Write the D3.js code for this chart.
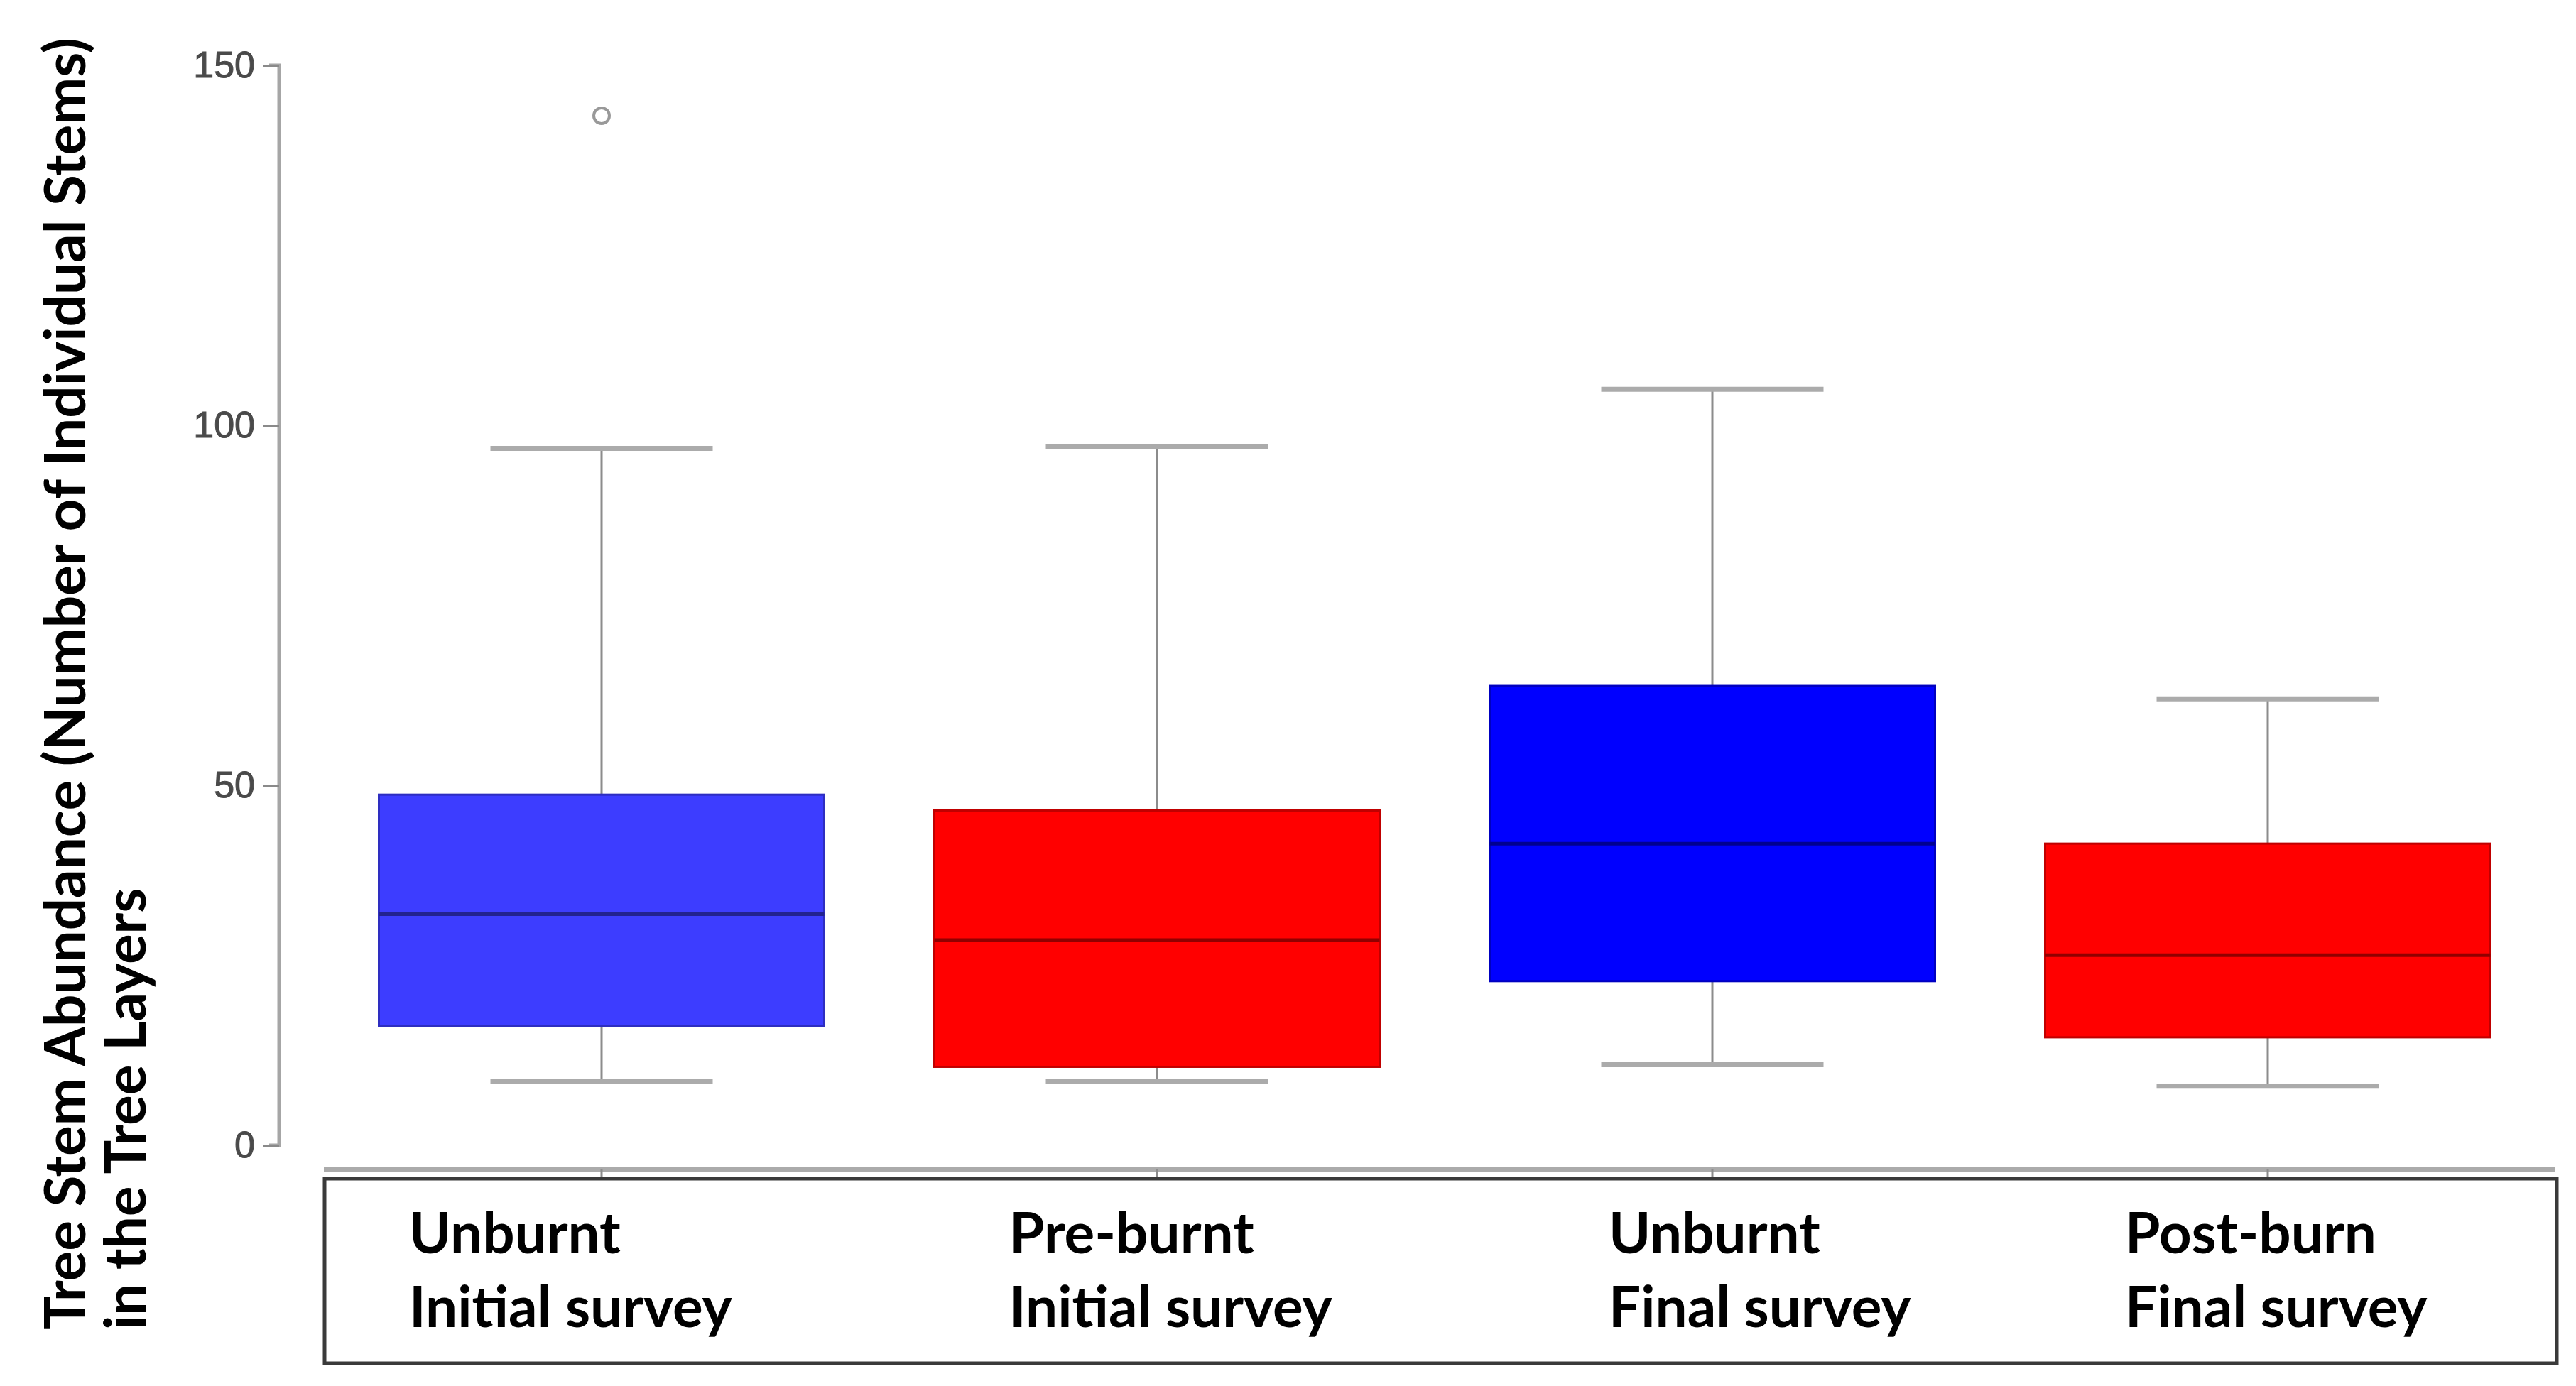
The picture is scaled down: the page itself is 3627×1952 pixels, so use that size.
<!DOCTYPE html>
<html><head><meta charset="utf-8">
<script src="https://cdn.jsdelivr.net/npm/d3@7"></script>
<style>html,body{margin:0;padding:0;background:#fff;}</style>
</head><body>
<svg id="chart" width="3627" height="1952"></svg>
<script>
// ---- data ----
const categories = ["Unburnt|Initial survey", "Pre-burnt|Initial survey", "Unburnt|Final survey", "Post-burn|Final survey"];
const whiskerLow  = [8.9, 8.9, 11.2, 8.2];
const q1          = [16.6, 10.9, 22.8, 15.0];
const medians     = [32.1, 28.5, 41.9, 26.4];
const q3          = [48.7, 46.5, 63.8, 41.9];
const whiskerHigh = [96.8, 97.0, 105.0, 62.0];
const outliers    = [[143], [], [], []];
const boxColors   = ["#3d3dff", "#ff0000", "#0000ff", "#ff0000"];
const yTicks      = [0, 50, 100, 150];
const yTitle      = ["Tree Stem Abundance (Number of Individual Stems)", "in the Tree Layers"];

// ---- layout ----
const svg = d3.select("#chart");
const x = d3.scalePoint().domain(categories).range([456, 3584]).padding(0.5);
const y = d3.scaleLinear().domain([0, 150]).range([1613, 92]);
const boxW = 627, capW = 313;
const data = categories.map((c, i) => ({c, i, lo: whiskerLow[i], q1: q1[i], med: medians[i], q3: q3[i], hi: whiskerHigh[i], out: outliers[i], col: boxColors[i]}));

// y axis (R style)
const axisX = 393;
const yAxis = d3.axisLeft(y).tickValues(yTicks).tickSize(22).tickPadding(12).tickFormat(d3.format("d"));
const gy = svg.append("g").attr("transform", `translate(${axisX},0)`).call(yAxis);
gy.select(".domain").attr("d", `M-14,${y(150)}H0V${y(0)}H-14`).attr("stroke", "#a6a6a6").attr("stroke-width", 5).attr("fill", "none");
gy.selectAll(".tick line").attr("stroke", "#8a8a8a").attr("stroke-width", 3);
gy.selectAll(".tick text").attr("font-family", "'Liberation Sans', Arial, sans-serif").attr("font-size", 52).attr("fill", "#4a4a4a").attr("stroke", "#4a4a4a").attr("stroke-width", 1);

// boxes
const g = svg.append("g");
data.forEach(d => {
  const cx = x(d.c);
  const dark = d3.color(d.col).darker(1.6);
  g.append("line").attr("x1", cx).attr("x2", cx).attr("y1", y(d.hi)).attr("y2", y(d.q3)).attr("stroke", "#8c8c8c").attr("stroke-width", 3);
  g.append("line").attr("x1", cx).attr("x2", cx).attr("y1", y(d.q1)).attr("y2", y(d.lo)).attr("stroke", "#8c8c8c").attr("stroke-width", 3);
  [d.hi, d.lo].forEach(v => g.append("line").attr("x1", cx - capW/2).attr("x2", cx + capW/2).attr("y1", y(v)).attr("y2", y(v)).attr("stroke", "#ababab").attr("stroke-width", 7));
  g.append("rect").attr("x", cx - boxW/2).attr("y", y(d.q3)).attr("width", boxW).attr("height", y(d.q1) - y(d.q3))
    .attr("fill", d.col).attr("stroke", d3.color(d.col).darker(0.8)).attr("stroke-width", 3);
  g.append("line").attr("x1", cx - boxW/2).attr("x2", cx + boxW/2).attr("y1", y(d.med)).attr("y2", y(d.med)).attr("stroke", dark).attr("stroke-width", 5);
  d.out.forEach(v => g.append("circle").attr("cx", cx).attr("cy", y(v)).attr("r", 11).attr("fill", "none").attr("stroke", "#999").attr("stroke-width", 4));
});

// x axis line + ticks
const axisY = 1647;
svg.append("line").attr("x1", 456).attr("x2", 3597).attr("y1", axisY).attr("y2", axisY).attr("stroke", "#ababab").attr("stroke-width", 6);
categories.forEach(c => svg.append("line").attr("x1", x(c)).attr("x2", x(c)).attr("y1", axisY).attr("y2", 1660).attr("stroke", "#8c8c8c").attr("stroke-width", 3));

// label box
svg.append("rect").attr("x", 457).attr("y", 1660).attr("width", 3143).attr("height", 260).attr("fill", "none").attr("stroke", "#3a3a3a").attr("stroke-width", 5);
const labelDx = [-271, -208, -146, -201];
const fontSize = 80;
categories.forEach((c, i) => {
  const parts = c.split("|");
  const t = svg.append("text").attr("font-family", "Lato, 'Open Sans', sans-serif").attr("font-weight", "bold").attr("font-size", fontSize).attr("fill", "#000");
  t.append("tspan").attr("x", x(c) + labelDx[i]).attr("y", 1765).text(parts[0]);
  t.append("tspan").attr("x", x(c) + labelDx[i]).attr("y", 1869).text(parts[1]);
});

// y title
const tY = 1873;
svg.append("text").attr("transform", `translate(120,${tY}) rotate(-90)`).attr("font-family", "Lato, 'Open Sans', sans-serif").attr("font-weight", "bold").attr("font-size", fontSize).attr("fill", "#000").text(yTitle[0]);
svg.append("text").attr("transform", `translate(205,${tY}) rotate(-90)`).attr("font-family", "Lato, 'Open Sans', sans-serif").attr("font-weight", "bold").attr("font-size", fontSize).attr("fill", "#000").text(yTitle[1]);
</script>
</body></html>
